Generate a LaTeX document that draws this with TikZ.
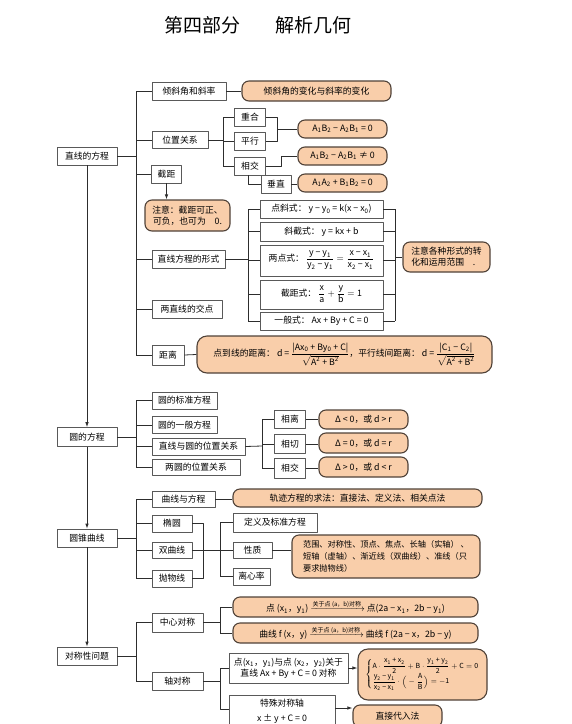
\documentclass[tikz,border=0pt]{standalone}
\usepackage{amsmath}
\usepackage{fontspec}
\setmainfont{Noto Sans CJK SC}
\usetikzlibrary{arrows.meta}
\definecolor{peach}{RGB}{249,206,170}
\definecolor{rim}{RGB}{80,66,56}
\definecolor{wirec}{RGB}{45,45,45}
\tikzset{wh/.style 2 args={minimum width=#1,minimum height=#2}}
\newcommand{\sub}[1]{\textsubscript{#1}}
\newcommand{\tx}[1]{\text{#1}}
\begin{document}
\begin{tikzpicture}[x=1pt,y=-1pt,line join=bevel]
  \tikzstyle{box}=[draw=black!65,line width=0.6pt,fill=white,inner sep=1pt,font=\fontsize{8.8}{11}\selectfont]
  \tikzstyle{note}=[draw=rim,line width=1.1pt,fill=peach,rounded corners=7pt,inner sep=2pt,font=\fontsize{8.8}{11}\selectfont]
  \tikzstyle{wire}=[draw=wirec,line width=0.8pt]
  \tikzstyle{arr}=[wire,-{Latex[length=5pt,width=3.5pt]}]
  \useasboundingbox (0,0) rectangle (572,724);
  \clip (0,0) rectangle (572,724);
  \node[font=\fontsize{19}{22}\selectfont] (title) at (258,25) {第四部分\hspace{1.8em}解析几何};

  % main column
  \node[box,wh={60}{18}] (line) at (87,156) {直线的方程};
  \node[box,wh={60}{19}] (circ) at (87,437) {圆的方程};
  \node[box,wh={60}{18}] (conic) at (87,538) {圆锥曲线};
  \node[box,wh={60}{18}] (sym) at (87,656) {对称性问题};
  \draw[arr] (line.south) -- (circ.north);
  \draw[arr] (circ.south) -- (conic.north);
  \draw[arr] (conic.south) -- (sym.north);

  % lines
  \node[box,wh={74}{18}] (slope) at (189,91) {倾斜角和斜率};
  \node[note,wh={149}{20}] (slopeN) at (316.5,91) {倾斜角的变化与斜率的变化};
  \node[box,wh={56}{17}] (pos) at (180,140) {位置关系};
  \node[box,wh={31}{18}] (chong) at (250,117) {重合};
  \node[box,wh={31}{18}] (ping) at (250,141) {平行};
  \node[box,wh={31}{18}] (jiao) at (250,166) {相交};
  \node[box,wh={30}{18}] (chui) at (276,184) {垂直};
  \node[note,wh={89}{18}] (n1) at (342.5,129) {A\sub{1}B\sub{2} − A\sub{2}B\sub{1} = 0};
  \node[note,wh={89}{18}] (n2) at (342.5,156) {A\sub{1}B\sub{2} − A\sub{2}B\sub{1} ≠ 0};
  \node[note,wh={89}{18}] (n3) at (342.5,183) {A\sub{1}A\sub{2} + B\sub{1}B\sub{2} = 0};
  \node[box,wh={30}{18}] (jieju) at (166.5,174) {截距};
  \node[note,wh={85}{31},align=center] (jjN) at (187.5,215.5) {注意：截距可正、\\可负，也可为\quad 0.};
  \node[box,wh={73}{18}] (form) at (188.5,259) {直线方程的形式};
  \node[box,wh={123}{18}] (dxs) at (321.5,209) {点斜式：\ y − y\sub{0} = k(x − x\sub{0})};
  \node[box,wh={123}{19}] (xjs) at (321.5,231.5) {斜截式：\ y = kx + b};
  \node[box,wh={123}{31}] (lds) at (321.5,260.5) {两点式：\ $\dfrac{\tx{y − y\sub{1}}}{\tx{y\sub{2} − y\sub{1}}}=\dfrac{\tx{x − x\sub{1}}}{\tx{x\sub{2} − x\sub{1}}}$};
  \node[box,wh={123}{29}] (jjs) at (321.5,294.5) {截距式：\ $\dfrac{\tx{x}}{\tx{a}}+\dfrac{\tx{y}}{\tx{b}}=\tx{1}$};
  \node[box,wh={123}{18}] (ybs) at (321.5,321) {一般式：\ Ax + By + C = 0};
  \node[note,wh={87}{30},align=left] (formN) at (446.5,257) {注意各种形式的转\\化和运用范围\quad .};
  \node[box,wh={70}{18}] (cross) at (187,309) {两直线的交点};
  \node[box,wh={32}{20}] (dist) at (168,355) {距离};
  \node[note,wh={295}{37},rounded corners=10pt] (distN) at (344.5,354.5) {点到线的距离：\ d = $\dfrac{\tx{|Ax\sub{0} + By\sub{0} + C|}}{\sqrt{\tx{A\textsuperscript{2} + B\textsuperscript{2}}}}$，平行线间距离：\ d = $\dfrac{\tx{|C\sub{1} − C\sub{2}|}}{\sqrt{\tx{A\textsuperscript{2} + B\textsuperscript{2}}}}$};

  \coordinate (t1) at (136,156);
  \draw[wire] (line.east) -- (t1);
  \draw[wire] (t1 |- slope.west) -- (t1 |- dist.west);
  \foreach \n in {slope,pos,jieju,form,cross,dist}
    \draw[wire] (t1 |- \n.west) -- (\n.west);
  \draw[wire] (slope.east) -- (slopeN.west);
  \coordinate (t2) at (223,140);
  \draw[wire] (pos.east) -- (t2);
  \draw[wire] (t2 |- chong.west) -- (t2 |- jiao.west);
  \foreach \n in {chong,ping,jiao}
    \draw[wire] (t2 |- \n.west) -- (\n.west);
  \draw[wire] (chong.east) -- ++(12,0) |- (ping.east);
  \coordinate (b1) at (278,129);
  \draw[wire] (b1) -- (n1.west);
  \draw[wire] (jiao.east) -- ++(16,0) |- (n2.west);
  \draw[wire] ([xshift=-2pt]jiao.south) |- (chui.west);
  \draw[wire] (chui.east) -- (chui.east -| n3.west);
  \draw[arr] (jieju.south) -- (jieju.south |- jjN.north);
  \coordinate (t3) at (248,259);
  \draw[wire] (form.east) -- (t3);
  \draw[wire] (t3 |- dxs.west) -- (t3 |- ybs.west);
  \foreach \n in {dxs,xjs,lds,jjs,ybs}
    \draw[wire] (t3 |- \n.west) -- (\n.west);
  \coordinate (t4) at (395,257);
  \draw[wire] (t4 |- dxs.east) -- (t4 |- ybs.east);
  \foreach \n in {dxs,xjs,lds,jjs,ybs}
    \draw[wire] (\n.east) -- (t4 |- \n.east);
  \draw[wire] (t4 |- formN.west) -- (formN.west);
  \draw[wire] (dist.east) -- (distN.west);

  % circles
  \node[box,wh={65}{17}] (std) at (184.5,400.5) {圆的标准方程};
  \node[box,wh={65}{17}] (gen) at (184.5,425) {圆的一般方程};
  \node[box,wh={93}{17}] (lc) at (198.5,446.5) {直线与圆的位置关系};
  \node[box,wh={88}{16}] (cc) at (196,467.5) {两圆的位置关系};
  \node[box,wh={31}{18}] (li) at (290,419) {相离};
  \node[box,wh={31}{19}] (qie) at (290,444) {相切};
  \node[box,wh={31}{20}] (jiao2) at (290,468) {相交};
  \node[note,wh={89}{19}] (c1) at (363.5,419.5) {Δ < 0，或\ d > r};
  \node[note,wh={89}{20}] (c2) at (363.5,443) {Δ = 0，或\ d = r};
  \node[note,wh={89}{20}] (c3) at (363.5,467) {Δ > 0，或\ d < r};

  \coordinate (t5) at (136,437);
  \draw[wire] (circ.east) -- (t5);
  \draw[wire] (t5 |- std.west) -- (t5 |- cc.west);
  \foreach \n in {std,gen,lc,cc}
    \draw[wire] (t5 |- \n.west) -- (\n.west);
  \coordinate (t6) at (262,446);
  \draw[wire] (lc.east) -- (t6);
  \draw[wire] (t6 |- li.west) -- (t6 |- jiao2.west);
  \foreach \n/\m in {li/c1,qie/c2,jiao2/c3} {
    \draw[wire] (t6 |- \n.west) -- (\n.west);
    \draw[wire] (\n.east) -- (\n.east -| \m.west);
  }

  % conics
  \node[box,wh={63}{16}] (qx) at (183.5,499.5) {曲线与方程};
  \node[note,wh={249}{18}] (qxN) at (357.5,498) {轨迹方程的求法：直接法、定义法、相关点法};
  \node[box,wh={40}{17}] (ell) at (172,523.5) {椭圆};
  \node[box,wh={40}{16}] (hyp) at (172,550.5) {双曲线};
  \node[box,wh={40}{17}] (par) at (172,578.5) {抛物线};
  \node[box,wh={84}{19}] (def) at (275,522.5) {定义及标准方程};
  \node[box,wh={39}{16}] (prop) at (252.5,550.5) {性质};
  \node[box,wh={37}{17}] (ecc) at (251.5,576.5) {离心率};
  \node[note,wh={188}{43},align=left,font=\fontsize{8.2}{12}\selectfont] (propN) at (386,556.5) {范围、对称性、顶点、焦点、长轴（实轴）\ 、\\短轴（虚轴）、渐近线（双曲线）、准线（只\\要求抛物线）};

  \coordinate (t7) at (136,538);
  \draw[wire] (conic.east) -- (t7);
  \draw[wire] (t7 |- qx.west) -- (t7 |- par.west);
  \foreach \n in {qx,ell,hyp,par}
    \draw[wire] (t7 |- \n.west) -- (\n.west);
  \draw[wire] (qx.east) -- (qx.east -| qxN.west);
  \coordinate (t8) at (203,550.5);
  \draw[wire] (ell.east) -- (t8 |- ell.east) -- (t8 |- par.east) -- (par.east);
  \draw[wire] (hyp.east) -- (prop.west);
  \coordinate (t9) at (220,550.5);
  \draw[wire] (t9 |- def.west) -- (t9 |- ecc.west);
  \foreach \n in {def,ecc}
    \draw[wire] (t9 |- \n.west) -- (\n.west);
  \draw[wire] (prop.east) -- (prop.east -| propN.west);

  % symmetry
  \node[box,wh={51}{19}] (cen) at (177.5,622.5) {中心对称};
  \node[box,wh={51}{18}] (axi) at (177.5,681) {轴对称};
  \node[note,wh={245}{20}] (cen1) at (355.5,607) {点 (x\sub{1}，y\sub{1})\ $\xrightarrow{\tx{\fontsize{6}{7}\selectfont 关于点 (a，b)对称}}$\ 点(2a − x\sub{1}，2b − y\sub{1})};
  \node[note,wh={245}{20}] (cen2) at (355.5,633) {曲线 f (x，y)\ $\xrightarrow{\tx{\fontsize{6}{7}\selectfont 关于点 (a，b)对称}}$\ 曲线 f (2a − x，2b − y)};
  \node[box,wh={119}{30},align=center] (ab1) at (288.5,668) {点(x\sub{1}，y\sub{1})与点 (x\sub{2}，y\sub{2})关于\\直线 Ax + By + C = 0 对称};
  \node[note,wh={129}{51},rounded corners=10pt,font=\fontsize{7}{9}\selectfont] (ab1N) at (422.5,674.5) {$\left\{\begin{array}{@{}l@{}}
      \tx{A}\cdot\dfrac{\tx{x\sub{1} + x\sub{2}}}{\tx{2}}+\tx{B}\cdot\dfrac{\tx{y\sub{1} + y\sub{2}}}{\tx{2}}+\tx{C}=\tx{0}\\[3pt]
      \dfrac{\tx{y\sub{2} − y\sub{1}}}{\tx{x\sub{2} − x\sub{1}}}\cdot\Big(-\dfrac{\tx{A}}{\tx{B}}\Big)=-\tx{1}
    \end{array}\right.$};
  \node[box,wh={106}{32},align=center,font=\fontsize{8.8}{15}\selectfont] (ab2) at (282,711) {特殊对称轴\\x ± y + C = 0};
  \node[note,wh={89}{22}] (ab2N) at (397.5,716) {直接代入法};

  \coordinate (t10) at (220,622.5);
  \draw[wire] (cen.east) -- (t10);
  \draw[wire] (t10 |- cen1.west) -- (t10 |- cen2.west);
  \foreach \n in {cen1,cen2}
    \draw[wire] (t10 |- \n.west) -- (\n.west);
  \coordinate (t11) at (136,656);
  \draw[wire] (sym.east) -- (t11);
  \draw[wire] (t11 |- cen.west) -- (t11 |- axi.west);
  \foreach \n in {cen,axi}
    \draw[wire] (t11 |- \n.west) -- (\n.west);
  \coordinate (t12) at (220,681);
  \coordinate (k) at (220,709);
  \draw[wire] (axi.east) -- (t12);
  \draw[wire] (t12 |- ab1.west) -- (k) -- (k -| ab2.west);
  \draw[wire] (t12 |- ab1.west) -- (ab1.west);
  \draw[arr] (ab1.east) -- (ab1.east -| ab1N.west);
  \coordinate (a2) at ([yshift=3pt]ab2.east);
  \draw[arr] (a2) -- (a2 -| ab2N.west);
\end{tikzpicture}
\end{document}
